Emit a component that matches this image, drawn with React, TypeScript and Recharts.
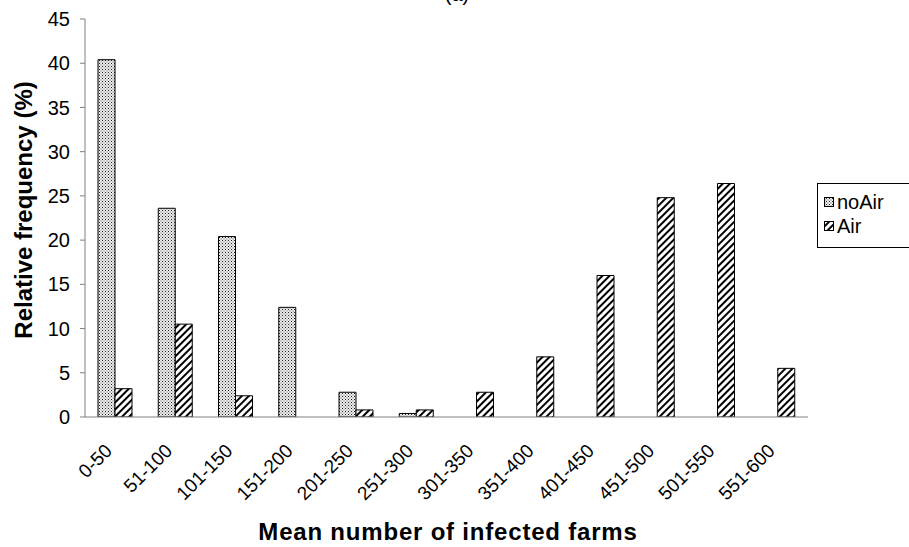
import React from "react";
import { BarChart, Bar, XAxis, YAxis } from "recharts";

const categories = ["0-50", "51-100", "101-150", "151-200", "201-250", "251-300", "301-350", "351-400", "401-450", "451-500", "501-550", "551-600"];
const noAirValues: (number | null)[] = [40.4, 23.6, 20.4, 12.4, 2.8, 0.4, null, null, null, null, null, null];
const airValues: (number | null)[] = [3.2, 10.5, 2.4, null, 0.8, 0.8, 2.8, 6.8, 16.0, 24.8, 26.4, 5.5];
const yTicks = [0, 5, 10, 15, 20, 25, 30, 35, 40, 45];
const seriesNames = ["noAir", "Air"];

const data = categories.map((c, i) => ({ cat: c, noAir: noAirValues[i], Air: airValues[i] }));

const FONT = '"Liberation Sans", Arial, Helvetica, sans-serif';
const AXIS = "#808080";

const Patterns = ({ prefix }: { prefix: string }) => (
  <defs>
    <pattern id={`${prefix}dots`} patternUnits="userSpaceOnUse" width="3" height="3">
      <rect x="0" y="0" width="3" height="3" fill="#ececec" />
      <rect x="0" y="0" width="1" height="1" fill="#222" />
      <rect x="1.5" y="1.5" width="1" height="1" fill="#666" />
    </pattern>
    <pattern id={`${prefix}hatch`} patternUnits="userSpaceOnUse" width="5" height="5" patternTransform="rotate(45)">
      <rect x="0" y="0" width="5" height="5" fill="#fff" />
      <rect x="0" y="0" width="2" height="5" fill="#000" />
    </pattern>
  </defs>
);

const XTick = (props: any) => {
  const { x, y, payload } = props;
  const ax = x - 2;
  const ay = y + 35;
  return (
    <text x={ax} y={ay} textAnchor="end" fontSize={19} fontFamily={FONT} fill="#000" transform={`rotate(-45, ${ax}, ${ay})`}>
      {payload.value}
    </text>
  );
};

const LegendBox = () => (
  <svg width={92} height={66} style={{ position: "absolute", left: 817, top: 183, display: "block" }}>
    <Patterns prefix="lg" />
    <rect x={0.5} y={0.5} width={120} height={64} fill="#fff" stroke="#000" strokeWidth={1} />
    <rect x={7.5} y={14.5} width={9} height={9} fill="url(#lgdots)" stroke="#000" strokeWidth={1} />
    <text x={20} y={26} fontSize={20} fontFamily={FONT} fill="#000">{seriesNames[0]}</text>
    <rect x={7.5} y={38.5} width={9} height={9} fill="url(#lghatch)" stroke="#000" strokeWidth={1} />
    <text x={20} y={50} fontSize={20} fontFamily={FONT} fill="#000">{seriesNames[1]}</text>
  </svg>
);

export default function App() {
  return (
    <div style={{ position: "absolute", left: 0, top: 0, width: 909, height: 547, background: "#fff", fontFamily: FONT, overflow: "hidden" }}>
      <svg width={0} height={0} style={{ position: "absolute" }}>
        <Patterns prefix="ch" />
      </svg>
      <svg width={909} height={547} style={{ position: "absolute", left: 0, top: 0 }}>
        <text x={457} y={1} textAnchor="middle" fontSize={20} fontFamily={FONT} fill="#000">(a)</text>
        <text x={448} y={540} textAnchor="middle" fontSize={24} fontWeight="bold" letterSpacing={0.8} fontFamily={FONT} fill="#000">Mean number of infected farms</text>
        <text x={32} y={210} textAnchor="middle" fontSize={24} fontWeight="bold" fontFamily={FONT} fill="#000" transform="rotate(-90, 32, 210)">Relative frequency (%)</text>
      </svg>
      <div style={{ position: "absolute", left: 0, top: 0 }}>
        <BarChart width={909} height={547} data={data} margin={{ top: 19, right: 101, left: 0, bottom: 0 }} barCategoryGap={13} barGap={0}>
          <XAxis dataKey="cat" height={130} tick={<XTick />} tickLine={false} tickSize={0} tickMargin={0} interval={0} stroke={AXIS} axisLine={{ stroke: AXIS }} />
          <YAxis width={85} domain={[0, 45]} ticks={yTicks} interval={0} tickSize={5} tickMargin={10} stroke={AXIS} tick={{ fill: "#000", fontSize: 20, fontFamily: FONT }} allowDataOverflow />
          <Bar dataKey="noAir" name={seriesNames[0]} fill="url(#chdots)" stroke="#000" strokeWidth={1} isAnimationActive={false} />
          <Bar dataKey="Air" name={seriesNames[1]} fill="url(#chhatch)" stroke="#000" strokeWidth={1} isAnimationActive={false} />
        </BarChart>
      </div>
      <LegendBox />
    </div>
  );
}
